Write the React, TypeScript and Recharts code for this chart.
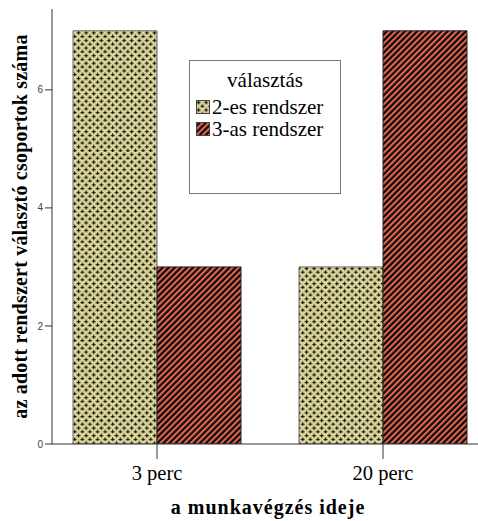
import { BarChart, Bar, XAxis, YAxis, Legend } from "recharts"

// categories and counts
const categories = ["3 perc", "20 perc"]
const ketteses = [7, 3]
const harmas = [3, 7]
const yTicks = [0, 2, 4, 6]
const seriesNames = ["2-es rendszer", "3-as rendszer"]

const data = categories.map((c, i) => ({ ido: c, ketto: ketteses[i], harom: harmas[i] }))

const serif = "Liberation Serif"

const LegendBox = () => (
  <div
    style={{
      width: 152,
      height: 134,
      border: "1px solid #777",
      background: "#fff",
      fontFamily: serif,
      boxSizing: "border-box",
      color: "#000",
    }}
  >
    <div style={{ textAlign: "center", fontSize: 21, marginTop: 8, lineHeight: "22px" }}>választás</div>
    {seriesNames.map((name, i) => (
      <div key={name} style={{ display: "flex", alignItems: "center", marginLeft: 6, height: 22, marginTop: i === 0 ? 5 : 0 }}>
        <svg width={14} height={14} style={{ marginRight: 2 }}>
          <rect x={0.5} y={0.5} width={13} height={13} fill={i === 0 ? "url(#plusz)" : "url(#csik)"} stroke="#444" />
        </svg>
        <span style={{ fontSize: 21, lineHeight: "22px" }}>{name}</span>
      </div>
    ))}
  </div>
)

export default function App() {
  return (
    <div style={{ position: "absolute", left: 0, top: 0, width: 478, height: 521, background: "#fff" }}>
      <BarChart width={478} height={521} data={data} margin={{ top: 9, right: 0, bottom: 0, left: 0 }} barGap={0} barCategoryGap={29}>
        <defs>
          <pattern id="plusz" width={7.6} height={7.6} patternUnits="userSpaceOnUse">
            <rect width={7.6} height={7.6} fill="#dcd79c" />
            <path d="M0.6 2.4h3.8M2.5 0.5v3.8M4.4 6.2h3.8M6.3 4.3v3.8M-3.2 6.2h3.8M-1.3 4.3v3.8M2.5 7.7v1" stroke="#15150c" strokeWidth={1.2} />
          </pattern>
          <pattern id="csik" width={4.3} height={4.3} patternUnits="userSpaceOnUse" patternTransform="rotate(45)">
            <rect width={4.3} height={4.3} fill="#0a0a0a" />
            <rect width={2.1} height={4.3} fill="#e5654d" />
          </pattern>
        </defs>
        <XAxis
          xAxisId="top"
          orientation="top"
          dataKey="ido"
          height={0}
          tick={false}
          tickLine={false}
          axisLine={{ stroke: "#999" }}
        />
        <XAxis
          dataKey="ido"
          height={77}
          padding={{ left: -8, right: -18 }}
          tickSize={15}
          tickMargin={6}
          tick={{ fontFamily: serif, fontSize: 20.5, fill: "#000" }}
          tickLine={{ stroke: "#333" }}
          axisLine={{ stroke: "#333" }}
          label={{
            value: "a munkavégzés ideje",
            position: "insideBottom",
            offset: 7,
            dx: 3,
            fontFamily: serif,
            fontSize: 20,
            fontWeight: "bold",
            letterSpacing: 1,
            fill: "#000",
          }}
        />
        <YAxis
          width={52}
          domain={[0, 7.37]}
          ticks={yTicks}
          allowDataOverflow
          tickSize={7}
          tickMargin={2}
          tick={{ fontFamily: "Liberation Sans", fontSize: 10, fill: "#444" }}
          tickLine={{ stroke: "#333" }}
          axisLine={{ stroke: "#333" }}
          label={{
            value: "az adott rendszert választó csoportok száma",
            angle: -90,
            position: "insideLeft",
            offset: 20,
            fontFamily: serif,
            fontSize: 20,
            fontWeight: "bold",
            letterSpacing: 0.2,
            fill: "#000",
            textAnchor: "middle",
          }}
        />
        <Legend
          layout="vertical"
          align="center"
          verticalAlign="middle"
          content={<LegendBox />}
          wrapperStyle={{ position: "absolute", left: 189, top: 60, width: 152 }}
        />
        <Bar dataKey="ketto" name={seriesNames[0]} fill="url(#plusz)" stroke="#666" strokeWidth={1} isAnimationActive={false} />
        <Bar dataKey="harom" name={seriesNames[1]} fill="url(#csik)" stroke="#222" strokeWidth={1} isAnimationActive={false} />
      </BarChart>
    </div>
  )
}
